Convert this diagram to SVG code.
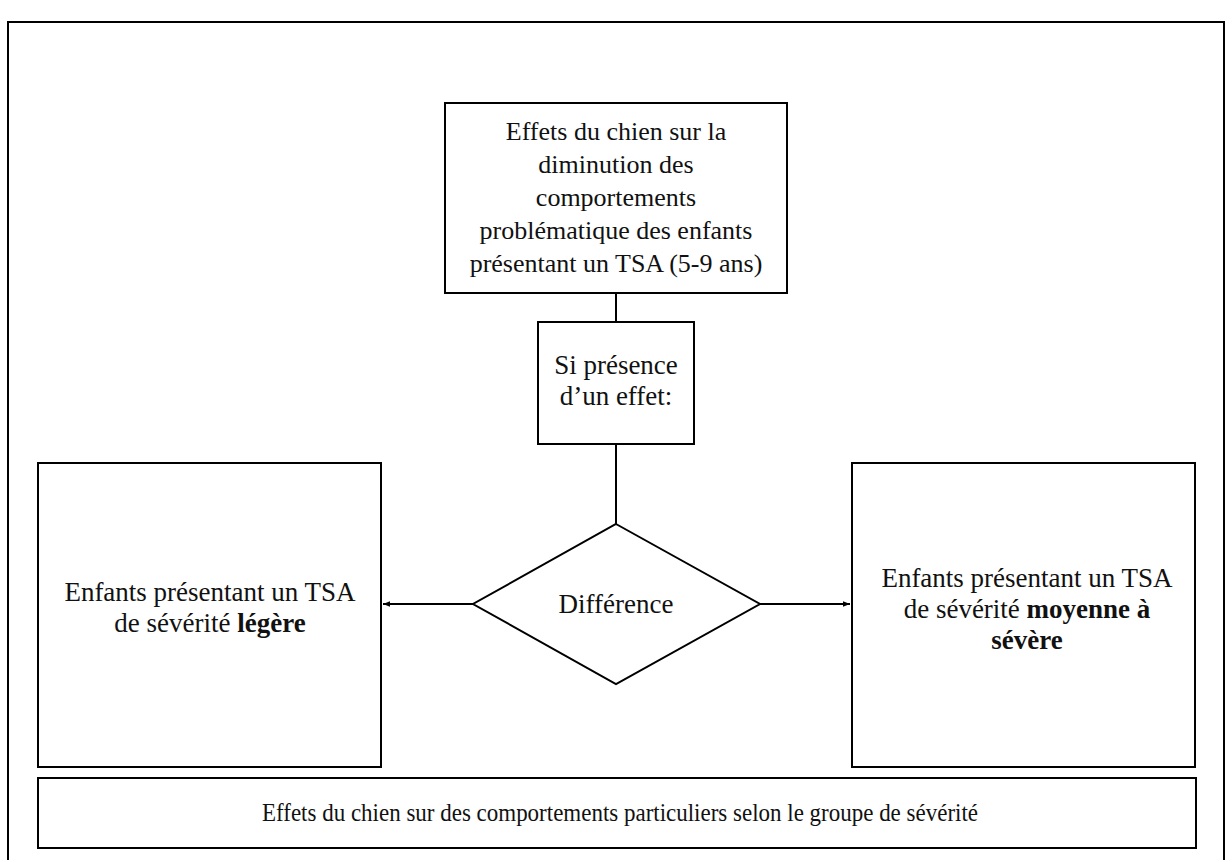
<svg xmlns="http://www.w3.org/2000/svg" width="1230" height="860" viewBox="0 0 1230 860">
<defs>
<style>
.box{fill:#fff;stroke:#000;stroke-width:2}
.frame{fill:#fff;stroke:#000;stroke-width:2}
.t{font-size:26px;fill:#111;text-anchor:middle}
.t2{font-size:27px;fill:#111;text-anchor:middle}
.b{font-weight:bold}
.ln{stroke:#000;stroke-width:2;fill:none}
</style>
<marker id="ah" viewBox="0 0 10 10" refX="10" refY="5" markerWidth="7" markerHeight="7" orient="auto" markerUnits="userSpaceOnUse">
<path d="M0,1 L10,5 L0,9 z" fill="#000"/>
</marker>
</defs>
<rect x="0" y="0" width="1230" height="860" fill="#fff"/>
<rect class="frame" x="8" y="22" width="1216" height="850"/>
<g id="connectors">
<line class="ln" x1="616" y1="293" x2="616" y2="322"/>
<line class="ln" x1="616" y1="444" x2="616" y2="524"/>
<line class="ln" x1="473" y1="604" x2="383" y2="604" marker-end="url(#ah)"/>
<line class="ln" x1="760" y1="604" x2="850" y2="604" marker-end="url(#ah)"/>
</g>
<g font-family="'Liberation Serif', 'Times New Roman', 'DejaVu Serif', serif">
<g id="n-main">
<rect class="box" x="445" y="103" width="342" height="190"/>
<text class="t" x="616" y="140">Effets du chien sur la</text>
<text class="t" x="616" y="173">diminution des</text>
<text class="t" x="616" y="206">comportements</text>
<text class="t" x="616" y="239">problématique des enfants</text>
<text class="t" x="616" y="272">présentant un TSA (5-9 ans)</text>
</g>
<g id="n-si">
<rect class="box" x="538" y="322" width="156" height="122"/>
<text class="t2" x="616" y="374">Si présence</text>
<text class="t2" x="616" y="405">d’un effet:</text>
</g>
<g id="n-diff">
<polygon class="box" points="616,524 760,604 616,684 473,604"/>
<text class="t2" x="616" y="613">Différence</text>
</g>
<g id="n-legere">
<rect class="box" x="38" y="463" width="343" height="304"/>
<text class="t2" x="210" y="601">Enfants présentant un TSA</text>
<text class="t2" x="210" y="632">de sévérité <tspan class="b">légère</tspan></text>
</g>
<g id="n-moyenne">
<rect class="box" x="852" y="463" width="343" height="304"/>
<text class="t2" x="1027" y="587">Enfants présentant un TSA</text>
<text class="t2" x="1027" y="618">de sévérité <tspan class="b">moyenne à</tspan></text>
<text class="t2 b" x="1027" y="649">sévère</text>
</g>
<g id="n-bottom">
<rect class="box" x="38" y="778" width="1158" height="70"/>
<text class="t" x="620" y="821" font-size="25" textLength="716" lengthAdjust="spacingAndGlyphs">Effets du chien sur des comportements particuliers selon le groupe de sévérité</text>
</g>
</g>
</svg>
